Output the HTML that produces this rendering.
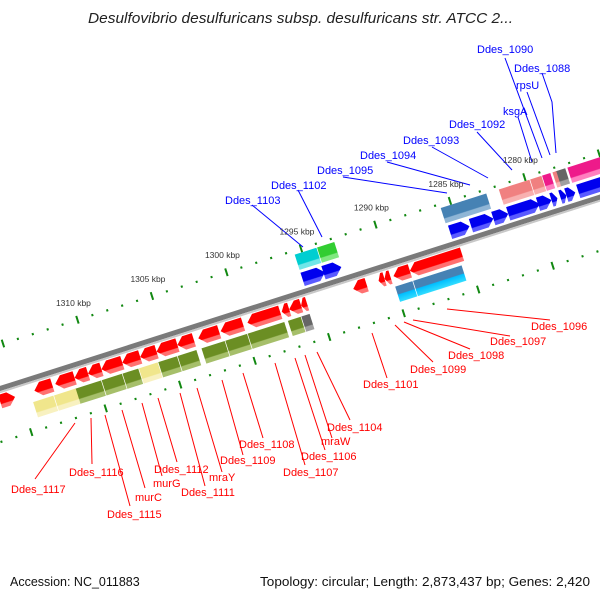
<!DOCTYPE html>
<html><head><meta charset="utf-8"><style>
html,body{margin:0;padding:0;background:#fff;width:600px;height:600px;overflow:hidden}
svg{display:block}
text{font-family:"Liberation Sans","DejaVu Sans",sans-serif}
</style></head><body>
<svg id="chart" width="600" height="600" viewBox="0 0 600 600">
<defs>
</defs>
<text x="88" y="23" textLength="425" lengthAdjust="spacingAndGlyphs" font-size="14.5" font-style="italic" fill="#222">Desulfovibrio desulfuricans subsp. desulfuricans str. ATCC 2...</text>
<g id="map" transform="translate(298.8,293.2) rotate(-17.7)"></g>
<g id="labels"></g>
<g id="ticklabels"></g>
<text x="10" y="586" font-size="12.5" fill="#111">Accession: NC_011883</text>
<text x="260" y="586" textLength="330" lengthAdjust="spacingAndGlyphs" font-size="12.5" fill="#111">Topology: circular; Length: 2,873,437 bp; Genes: 2,420</text>
</svg>
<script>
// ---- data (kbp) ----
const fwdStarts = [1274.6,1277.2,1277.8,1278.4,1278.8,1279.6,1281.7,1282.7,1284.3,1292.9,1294.0];
const fwdEnds   = [1277.0,1277.8,1278.2,1278.8,1279.7,1281.7,1282.7,1284.2,1285.6,1294.1,1295.5];
const revStarts = [1285.3,1288.8,1290.1,1290.5,1291.7,1295.7,1296.1,1296.9,1297.5,1300.0,1301.6,1303.3,1304.4,1305.8,1306.9,1308.1,1309.5,1310.4,1311.3,1312.8,1315.3];
const revEnds   = [1288.8,1289.9,1290.5,1290.9,1292.6,1296.1,1296.9,1297.4,1299.7,1301.5,1303.0,1304.4,1305.8,1306.9,1308.1,1309.5,1310.4,1311.3,1312.6,1314.0,1316.3];
const outerCogStarts = [1274.2,1277.3,1277.9,1278.3,1278.9,1279.7,1282.6,1284.2,1292.8,1294.0];
const outerCogEnds   = [1277.2,1278.0,1278.2,1278.9,1279.7,1281.8,1284.3,1285.7,1294.0,1295.5];
const outerCogCats   = ['M','X','S','M','S','S','B','B','G','C'];
const innerCogStarts = [1285.5,1288.8,1295.7,1296.3,1297.4,1299.9,1301.4,1303.3,1304.6,1305.9,1307.2,1308.3,1309.7,1311.4,1312.9];
const innerCogEnds   = [1288.8,1290.0,1296.3,1297.2,1299.9,1301.4,1303.0,1304.6,1305.9,1307.2,1308.3,1309.7,1311.5,1312.9,1314.3];
const innerCogCats   = ['BC','BC','X','O','O','O','O','O','O','Y','O','O','O','Y','Y'];
const tickMajor = [1280,1285,1290,1295,1300,1305,1310];
const tickLabels = ['1280 kbp','1285 kbp','1290 kbp','1295 kbp','1300 kbp','1305 kbp','1310 kbp'];
const tickMin = 1274, tickMax = 1317;

const NS='http://www.w3.org/2000/svg';
const map=document.getElementById('map');
const defs=document.querySelector('defs');
const PX_PER_KBP=15.64, K0=1296, ANG=17.7*Math.PI/180, OX=298.8, OY=293.2;
function xOf(k){return (K0-k)*PX_PER_KBP;}
function toScreen(lx,ly){return [OX+lx*Math.cos(ANG)+ly*Math.sin(ANG), OY-lx*Math.sin(ANG)+ly*Math.cos(ANG)];}

const colors={R:['#ff0000','#ff7070'],Bl:['#0000ee','#5a5aff'],M:['#ee1a8a','#ff7fbf'],X:['#666666','#a0a0a0'],S:['#f08080','#f8b0b0'],B:['#4682b4','#8fb5d6'],G:['#32cd32','#80e880'],C:['#00ced1','#70e6e8'],O:['#6b8e23','#a6bf6a'],Y:['#f0e68c','#f8f1c0'],BC:['#4682b4','#00bfff']};
for(const k in colors){
  const g=document.createElementNS(NS,'linearGradient');
  g.setAttribute('id','g'+k);g.setAttribute('x1','0');g.setAttribute('y1','0');g.setAttribute('x2','0');g.setAttribute('y2','1');
  const stops=k==='BC'?[[0,colors[k][0]],[0.5,colors[k][0]],[0.55,colors[k][1]],[1,'#33ddff']]:[[0,colors[k][0]],[0.66,colors[k][0]],[0.72,colors[k][1]],[1,colors[k][1]]];
  stops.forEach(s=>{const st=document.createElementNS(NS,'stop');st.setAttribute('offset',s[0]);st.setAttribute('stop-color',s[1]);g.appendChild(st);});
  defs.appendChild(g);
}
function mk(tag,attrs,parent){const e=document.createElementNS(NS,tag);for(const a in attrs)e.setAttribute(a,attrs[a]);(parent||map).appendChild(e);return e;}

const bb=mk('line',{x1:-420,y1:0,x2:420,y2:0,stroke:'#7a7a7a','stroke-width':5});


const bs=mk('line',{x1:-420,y1:3.5,x2:420,y2:3.5,stroke:'#c8c8c8','stroke-width':2});



[-42,51].forEach((ty,ti)=>{
  for(let k=tickMin;k<=tickMax;k++){
    const x=xOf(k);
    if(k%5===0){
      const t=mk('rect',{x:x-1,y:ty-4,width:2,height:8,fill:'#118811'});
      
      
    }else{
      const t=mk('rect',{x:x-1,y:ty-1,width:2,height:2.2,fill:'#118811'});
      
      
    }
  }
});
const tl=document.getElementById('ticklabels');
tickMajor.forEach((k,i)=>{
  const p=toScreen(xOf(k),-42);
  const t=mk('text',{x:p[0]-4,y:p[1]-14,'text-anchor':'middle','font-size':8.5,fill:'#333'},tl);
  t.textContent=tickLabels[i];
  
  
});

function arrow(s,e,yTop,h,dir,col,name){
  const xa=xOf(e), xb=xOf(s);
  const w=xb-xa, hd=Math.min(7,w*0.6), yb=yTop+h, yc=yTop+h/2;
  let pts;
  if(dir<0) pts=[[xa,yc],[xa+hd,yTop],[xb,yTop],[xb,yb],[xa+hd,yb]];
  else pts=[[xa,yTop],[xb-hd,yTop],[xb,yc],[xb-hd,yb],[xa,yb]];
  const p=mk('polygon',{points:pts.map(q=>q.join(',')).join(' '),fill:'url(#g'+col+')'});
  
  
}
function box(s,e,yTop,h,col,name){
  const xa=xOf(e), xb=xOf(s);
  const r=mk('rect',{x:xa,y:yTop,width:Math.max(0.5,xb-xa-0.7),height:h,fill:'url(#g'+col+')'});
  
  
}
fwdStarts.forEach((s,i)=>arrow(s,fwdEnds[i],-19,14,1,'Bl','forward-gene'));
revStarts.forEach((s,i)=>arrow(s,revEnds[i],5.5,14,i===revStarts.length-1?1:-1,'R','reverse-gene'));
outerCogStarts.forEach((s,i)=>box(s,outerCogEnds[i],-38,16,outerCogCats[i],'outer-cog-box'));
innerCogStarts.forEach((s,i)=>box(s,innerCogEnds[i],23,16,innerCogCats[i],'inner-cog-box'));

const labelTexts=['Ddes_1090','Ddes_1088','rpsU','ksgA','Ddes_1092','Ddes_1093','Ddes_1094','Ddes_1095','Ddes_1102','Ddes_1103',
'Ddes_1117','Ddes_1116','Ddes_1115','murC','murG','Ddes_1112','Ddes_1111','mraY','Ddes_1109','Ddes_1108','Ddes_1107','Ddes_1106','mraW','Ddes_1104','Ddes_1101','Ddes_1099','Ddes_1098','Ddes_1097','Ddes_1096'];
const labelPos=[[477,53,[[505,58],[542,158]]],[514,72,[[542,73],[552,102],[556,153]]],[516,89,[[527,92],[550,155]]],[503,115,[[518,117],[532,162]]],[449,128,[[477,132],[512,170]]],[403,144,[[432,147],[488,178]]],[360,159,[[387,162],[470,185]]],[317,174,[[343,177],[447,193]]],[271,189,[[298,190],[322,237]]],[225,204,[[252,205],[303,247]]],
[11,493,[[35,479],[75,423]]],[69,476,[[92,464],[91,418]]],[107,518,[[130,506],[105,415]]],[135,501,[[145,488],[122,410]]],[153,487,[[162,476],[142,403]]],[154,473,[[177,462],[158,398]]],[181,496,[[205,486],[180,393]]],[209,481,[[222,472],[197,388]]],[220,464,[[243,455],[222,380]]],[239,448,[[263,438],[243,373]]],[283,476,[[305,465],[275,363]]],[301,460,[[325,450],[295,358]]],[321,445,[[332,438],[305,355]]],[327,431,[[350,420],[317,352]]],[363,388,[[387,378],[372,333]]],[410,373,[[433,362],[395,325]]],[448,359,[[470,349],[404,322]]],[490,345,[[510,336],[413,320]]],[531,330,[[550,320],[447,309]]]];
const lg=document.getElementById('labels');
labelTexts.forEach((t,i)=>{
  const col=i<10?'#0000ff':'#ff0000';
  const lp=labelPos[i];
  const pl=mk('polyline',{points:lp[2].map(q=>q.join(',')).join(' '),fill:'none',stroke:col,'stroke-width':1},lg);
  
  
  const tx=mk('text',{x:lp[0],y:lp[1],'font-size':11,fill:col},lg);
  tx.textContent=t;
  
  
});
</script>
</body></html>
